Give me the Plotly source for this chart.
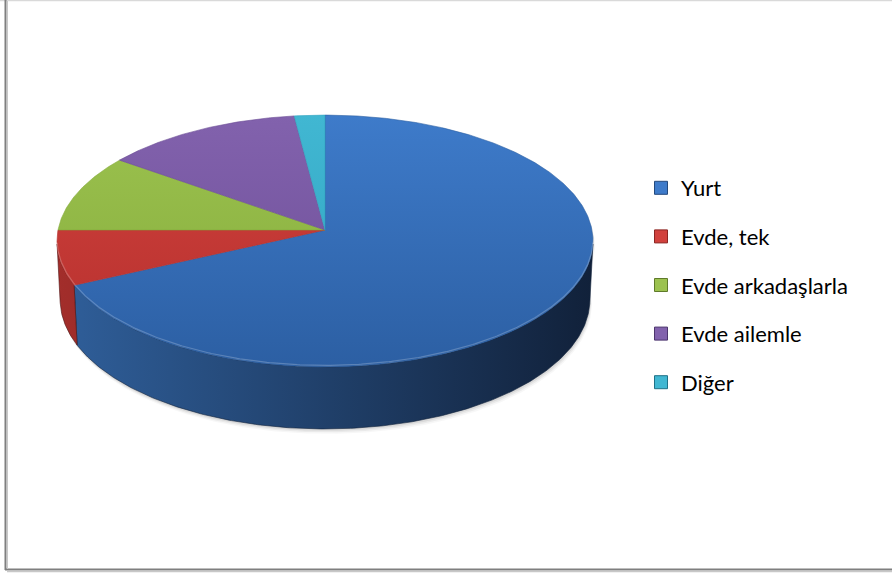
import numpy as np
import plotly.graph_objects as go

# Where students live (share of respondents, %)
labels = ["Yurt", "Evde, tek", "Evde arkadaşlarla", "Evde ailemle", "Diğer"]
values = [68, 7, 10, 13, 2]

# Slice colours: top face (light -> dark) and side wall (light -> dark)
top_light = ["#3e7bca", "#d1413d", "#9cc24f", "#8262ad", "#41b7d2"]
top_dark = ["#2c5fa3", "#b5302d", "#84ab3b", "#6c4d96", "#2fa2bf"]
side_light = ["#30609c", "#a42e2b", "#6f8f33", "#5a3f80", "#2a8aa3"]
side_dark = ["#11213a", "#4e1312", "#34441a", "#2a1d3d", "#124050"]
legend_edge = ["#23497d", "#8a2522", "#5f7a2a", "#4c356d", "#1f7187"]

W, H = 892, 574

# Perspective view of a tilted disk
CX, CY = 325.0, 230.0
FOCAL, DIST = 2707.0, 10.14
TILT = np.radians(27.9)
SA, CA = np.sin(TILT), np.cos(TILT)
DEPTH = 0.25


def proj(theta_deg, drop=0.0, r=1.0):
    t = np.radians(np.asarray(theta_deg, dtype=float))
    X = r * np.sin(t)
    Z = -r * np.cos(t)
    u = Z * SA + drop * CA
    d = DIST - Z * CA + drop * SA
    return CX + FOCAL * X / d, CY + FOCAL * u / d


def arc(a0, a1, drop=0.0, r=1.0):
    n = max(3, int(abs(a1 - a0) * 2))
    th = np.linspace(a0, a1, n)
    return proj(th, drop, r)


total = float(sum(values))
bounds = np.concatenate([[0.0], np.cumsum(values) / total * 360.0])

# part of the cylinder wall facing the camera
k = 1.0 / (DIST * CA)
vis_lo = np.degrees(np.arccos(-k))
vis_hi = 360.0 - vis_lo

fig = go.Figure()

# soft drop shadow under the disk
for off, alpha in [(5, 0.03), (3.5, 0.05), (2, 0.07)]:
    bx, by = arc(vis_lo - 10, vis_hi + 10, DEPTH, 1.0)
    tx, ty = arc(vis_hi + 10, vis_lo - 10, 0.0, 1.0)
    xs = np.concatenate([bx, tx]) + off * 0.4
    ys = np.concatenate([by, ty]) + off
    fig.add_trace(go.Scatter(x=xs, y=ys, fill="toself", mode="lines",
                             line=dict(width=0), fillcolor=f"rgba(0,0,0,{alpha})",
                             hoverinfo="skip", showlegend=False))

x_left, _ = proj(270.0)
x_right, _ = proj(90.0)

# side walls
for i in range(len(values)):
    lo = max(bounds[i], vis_lo)
    hi = min(bounds[i + 1], vis_hi)
    if lo >= hi:
        continue
    tx, ty = arc(lo, hi, 0.0)
    bx, by = arc(hi, lo, DEPTH)
    xs = np.concatenate([tx, bx, tx[:1]])
    ys = np.concatenate([ty, by, ty[:1]])
    fig.add_trace(go.Scatter(
        x=xs, y=ys, fill="toself", mode="lines",
        line=dict(width=0.6, color=side_dark[i]),
        fillgradient=dict(type="horizontal",
                          colorscale=[[0, side_light[i]], [1, side_dark[i]]],
                          start=x_left - 10, stop=x_right),
        hoverinfo="skip", showlegend=False))

_, y_top = proj(0.0)
_, y_bot = proj(180.0)

# top faces
for i in range(len(values)):
    ax, ay = arc(bounds[i], bounds[i + 1], 0.0)
    xs = np.concatenate([[CX], ax, [CX]])
    ys = np.concatenate([[CY], ay, [CY]])
    fig.add_trace(go.Scatter(
        x=xs, y=ys, fill="toself", mode="lines",
        line=dict(width=0.6, color=top_dark[i]),
        fillgradient=dict(type="vertical",
                          colorscale=[[0, top_light[i]], [1, top_dark[i]]],
                          start=y_top, stop=y_bot),
        hoverinfo="skip", showlegend=False))

# bevel highlight along the front rim
for i in range(len(values)):
    lo = max(bounds[i], vis_lo)
    hi = min(bounds[i + 1], vis_hi)
    if lo >= hi:
        continue
    hx, hy = arc(lo, hi, 0.0)
    fig.add_trace(go.Scatter(x=hx, y=hy - 1.5, mode="lines",
                             line=dict(width=1.2, color="rgba(255,255,255,0.22)"),
                             hoverinfo="skip", showlegend=False))

# legend entries
for i, name in enumerate(labels):
    fig.add_trace(go.Scatter(
        x=[None], y=[None], mode="markers", name=name, legendgroup=name,
        marker=dict(symbol="square", size=13, color=top_light[i],
                    line=dict(color=legend_edge[i], width=1))))

# chart frame
fig.add_shape(type="line", x0=0, x1=W, y0=0.5, y1=0.5,
              line=dict(color="#d9d9d9", width=1.5), layer="above")
fig.add_shape(type="line", x0=5.5, x1=5.5, y0=0, y1=570,
              line=dict(color="#7f7f7f", width=2), layer="above")
fig.add_shape(type="line", x0=5, x1=W, y0=569.5, y1=569.5,
              line=dict(color="#7f7f7f", width=2), layer="above")
fig.add_shape(type="line", x0=7, x1=W, y0=571.5, y1=571.5,
              line=dict(color="#c8c8c8", width=1.5), layer="above")
fig.add_shape(type="line", x0=7.5, x1=7.5, y0=1, y1=569,
              line=dict(color="#c8c8c8", width=1), layer="above")

fig.update_layout(
    width=W, height=H,
    margin=dict(l=0, r=0, t=0, b=0),
    paper_bgcolor="white", plot_bgcolor="white",
    xaxis=dict(range=[0, W], visible=False, fixedrange=True),
    yaxis=dict(range=[H, 0], visible=False, fixedrange=True),
    showlegend=True,
    legend=dict(x=641 / W, xanchor="left", y=1 - 285 / H, yanchor="middle",
                font=dict(family="Lato", size=22, color="#000000"),
                tracegroupgap=17, bgcolor="rgba(0,0,0,0)", itemclick=False),
    font=dict(family="Lato"),
)

fig.write_html("out.html")
